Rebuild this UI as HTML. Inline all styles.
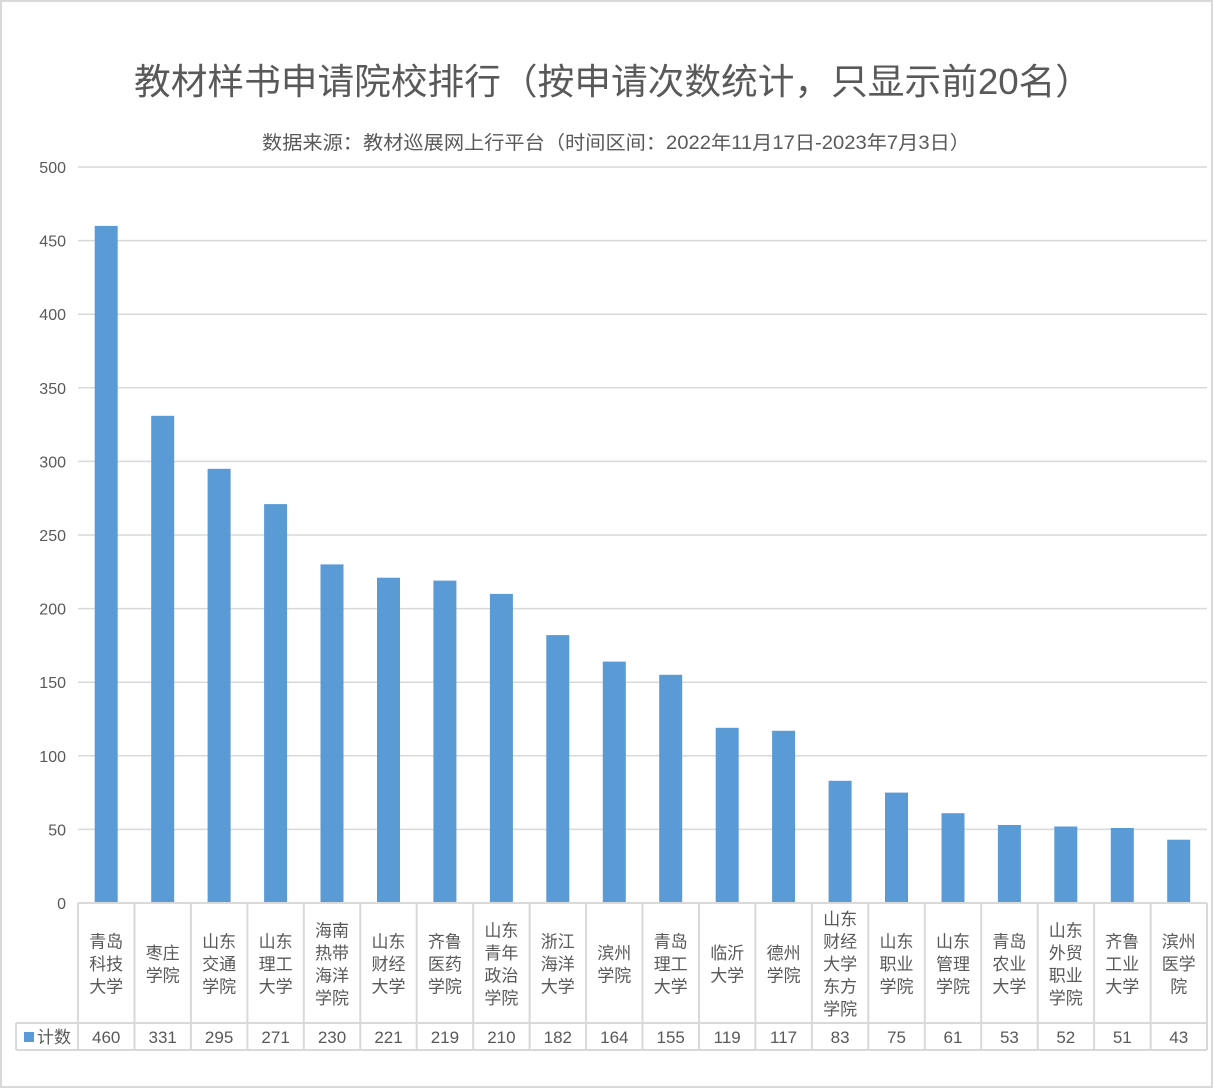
<!DOCTYPE html>
<html><head><meta charset="utf-8"><style>
html,body{margin:0;padding:0;background:#fff}
svg{display:block;font-family:"Liberation Sans","Noto Sans CJK SC",sans-serif}
</style></head><body>
<svg width="1214" height="1089" xmlns="http://www.w3.org/2000/svg">
<rect x="1" y="1" width="1211" height="1086" fill="#fff" stroke="#d9d9d9" stroke-width="2"/>
<text x="134" y="94" font-size="36" fill="#595959" textLength="958" lengthAdjust="spacingAndGlyphs">教材样书申请院校排行（按申请次数统计，只显示前20名）</text>
<text x="262" y="149" font-size="19" fill="#595959" textLength="708" lengthAdjust="spacingAndGlyphs">数据来源：教材巡展网上行平台（时间区间：2022年11月17日-2023年7月3日）</text>
<g stroke="#d9d9d9" stroke-width="1.5">
<line x1="78" x2="1207" y1="167" y2="167"/><line x1="78" x2="1207" y1="240.6" y2="240.6"/><line x1="78" x2="1207" y1="314.2" y2="314.2"/><line x1="78" x2="1207" y1="387.8" y2="387.8"/><line x1="78" x2="1207" y1="461.4" y2="461.4"/><line x1="78" x2="1207" y1="535" y2="535"/><line x1="78" x2="1207" y1="608.6" y2="608.6"/><line x1="78" x2="1207" y1="682.2" y2="682.2"/><line x1="78" x2="1207" y1="755.8" y2="755.8"/><line x1="78" x2="1207" y1="829.4" y2="829.4"/>
</g>
<g font-size="16" fill="#595959" text-anchor="end">
<text x="66" y="173">500</text><text x="66" y="246.6">450</text><text x="66" y="320.2">400</text><text x="66" y="393.8">350</text><text x="66" y="467.4">300</text><text x="66" y="541">250</text><text x="66" y="614.6">200</text><text x="66" y="688.2">150</text><text x="66" y="761.8">100</text><text x="66" y="835.4">50</text><text x="66" y="909">0</text>
</g>
<g fill="#5b9bd5">
<rect x="94.7" y="225.9" width="23" height="677.1"/>
<rect x="151.2" y="415.8" width="23" height="487.2"/>
<rect x="207.6" y="468.8" width="23" height="434.2"/>
<rect x="264.1" y="504.1" width="23" height="398.9"/>
<rect x="320.5" y="564.4" width="23" height="338.6"/>
<rect x="377" y="577.7" width="23" height="325.3"/>
<rect x="433.4" y="580.6" width="23" height="322.4"/>
<rect x="489.9" y="593.9" width="23" height="309.1"/>
<rect x="546.3" y="635.1" width="23" height="267.9"/>
<rect x="602.8" y="661.6" width="23" height="241.4"/>
<rect x="659.2" y="674.8" width="23" height="228.2"/>
<rect x="715.7" y="727.8" width="23" height="175.2"/>
<rect x="772.1" y="730.8" width="23" height="172.2"/>
<rect x="828.6" y="780.8" width="23" height="122.2"/>
<rect x="885" y="792.6" width="23" height="110.4"/>
<rect x="941.5" y="813.2" width="23" height="89.8"/>
<rect x="997.9" y="825" width="23" height="78"/>
<rect x="1054.3" y="826.5" width="23" height="76.5"/>
<rect x="1110.8" y="828" width="23" height="75"/>
<rect x="1167.2" y="839.7" width="23" height="63.3"/>
</g>
<g stroke="#d9d9d9" stroke-width="2" fill="none">
<line x1="78" x2="1207" y1="903" y2="903"/>
<line x1="16" x2="1207" y1="1023" y2="1023"/>
<line x1="16" x2="1207" y1="1050" y2="1050"/>
<line x1="16" x2="16" y1="1023" y2="1050"/>
<line x1="78" x2="78" y1="903" y2="1050"/><line x1="134.5" x2="134.5" y1="903" y2="1050"/><line x1="190.9" x2="190.9" y1="903" y2="1050"/><line x1="247.4" x2="247.4" y1="903" y2="1050"/><line x1="303.8" x2="303.8" y1="903" y2="1050"/><line x1="360.3" x2="360.3" y1="903" y2="1050"/><line x1="416.7" x2="416.7" y1="903" y2="1050"/><line x1="473.2" x2="473.2" y1="903" y2="1050"/><line x1="529.6" x2="529.6" y1="903" y2="1050"/><line x1="586.1" x2="586.1" y1="903" y2="1050"/><line x1="642.5" x2="642.5" y1="903" y2="1050"/><line x1="699" x2="699" y1="903" y2="1050"/><line x1="755.4" x2="755.4" y1="903" y2="1050"/><line x1="811.9" x2="811.9" y1="903" y2="1050"/><line x1="868.3" x2="868.3" y1="903" y2="1050"/><line x1="924.8" x2="924.8" y1="903" y2="1050"/><line x1="981.2" x2="981.2" y1="903" y2="1050"/><line x1="1037.7" x2="1037.7" y1="903" y2="1050"/><line x1="1094.1" x2="1094.1" y1="903" y2="1050"/><line x1="1150.6" x2="1150.6" y1="903" y2="1050"/><line x1="1207" x2="1207" y1="903" y2="1050"/>
</g>
<g font-size="17" fill="#595959" text-anchor="middle">
<text x="106.2" y="947.5">青岛</text><text x="106.2" y="970">科技</text><text x="106.2" y="992.5">大学</text>
<text x="162.7" y="958.8">枣庄</text><text x="162.7" y="981.3">学院</text>
<text x="219.1" y="947.5">山东</text><text x="219.1" y="970">交通</text><text x="219.1" y="992.5">学院</text>
<text x="275.6" y="947.5">山东</text><text x="275.6" y="970">理工</text><text x="275.6" y="992.5">大学</text>
<text x="332" y="936.3">海南</text><text x="332" y="958.8">热带</text><text x="332" y="981.3">海洋</text><text x="332" y="1003.8">学院</text>
<text x="388.5" y="947.5">山东</text><text x="388.5" y="970">财经</text><text x="388.5" y="992.5">大学</text>
<text x="444.9" y="947.5">齐鲁</text><text x="444.9" y="970">医药</text><text x="444.9" y="992.5">学院</text>
<text x="501.4" y="936.3">山东</text><text x="501.4" y="958.8">青年</text><text x="501.4" y="981.3">政治</text><text x="501.4" y="1003.8">学院</text>
<text x="557.8" y="947.5">浙江</text><text x="557.8" y="970">海洋</text><text x="557.8" y="992.5">大学</text>
<text x="614.3" y="958.8">滨州</text><text x="614.3" y="981.3">学院</text>
<text x="670.7" y="947.5">青岛</text><text x="670.7" y="970">理工</text><text x="670.7" y="992.5">大学</text>
<text x="727.2" y="958.8">临沂</text><text x="727.2" y="981.3">大学</text>
<text x="783.6" y="958.8">德州</text><text x="783.6" y="981.3">学院</text>
<text x="840.1" y="925">山东</text><text x="840.1" y="947.5">财经</text><text x="840.1" y="970">大学</text><text x="840.1" y="992.5">东方</text><text x="840.1" y="1015">学院</text>
<text x="896.5" y="947.5">山东</text><text x="896.5" y="970">职业</text><text x="896.5" y="992.5">学院</text>
<text x="953" y="947.5">山东</text><text x="953" y="970">管理</text><text x="953" y="992.5">学院</text>
<text x="1009.4" y="947.5">青岛</text><text x="1009.4" y="970">农业</text><text x="1009.4" y="992.5">大学</text>
<text x="1065.8" y="936.3">山东</text><text x="1065.8" y="958.8">外贸</text><text x="1065.8" y="981.3">职业</text><text x="1065.8" y="1003.8">学院</text>
<text x="1122.3" y="947.5">齐鲁</text><text x="1122.3" y="970">工业</text><text x="1122.3" y="992.5">大学</text>
<text x="1178.7" y="947.5">滨州</text><text x="1178.7" y="970">医学</text><text x="1178.7" y="992.5">院</text>
</g>
<rect x="24" y="1032" width="10" height="10" fill="#5b9bd5"/>
<text x="37" y="1043" font-size="17" fill="#595959">计数</text>
<g font-size="17" fill="#595959" text-anchor="middle">
<text x="106.2" y="1043">460</text><text x="162.7" y="1043">331</text><text x="219.1" y="1043">295</text><text x="275.6" y="1043">271</text><text x="332" y="1043">230</text><text x="388.5" y="1043">221</text><text x="444.9" y="1043">219</text><text x="501.4" y="1043">210</text><text x="557.8" y="1043">182</text><text x="614.3" y="1043">164</text><text x="670.7" y="1043">155</text><text x="727.2" y="1043">119</text><text x="783.6" y="1043">117</text><text x="840.1" y="1043">83</text><text x="896.5" y="1043">75</text><text x="953" y="1043">61</text><text x="1009.4" y="1043">53</text><text x="1065.8" y="1043">52</text><text x="1122.3" y="1043">51</text><text x="1178.7" y="1043">43</text>
</g>
</svg>
</body></html>
